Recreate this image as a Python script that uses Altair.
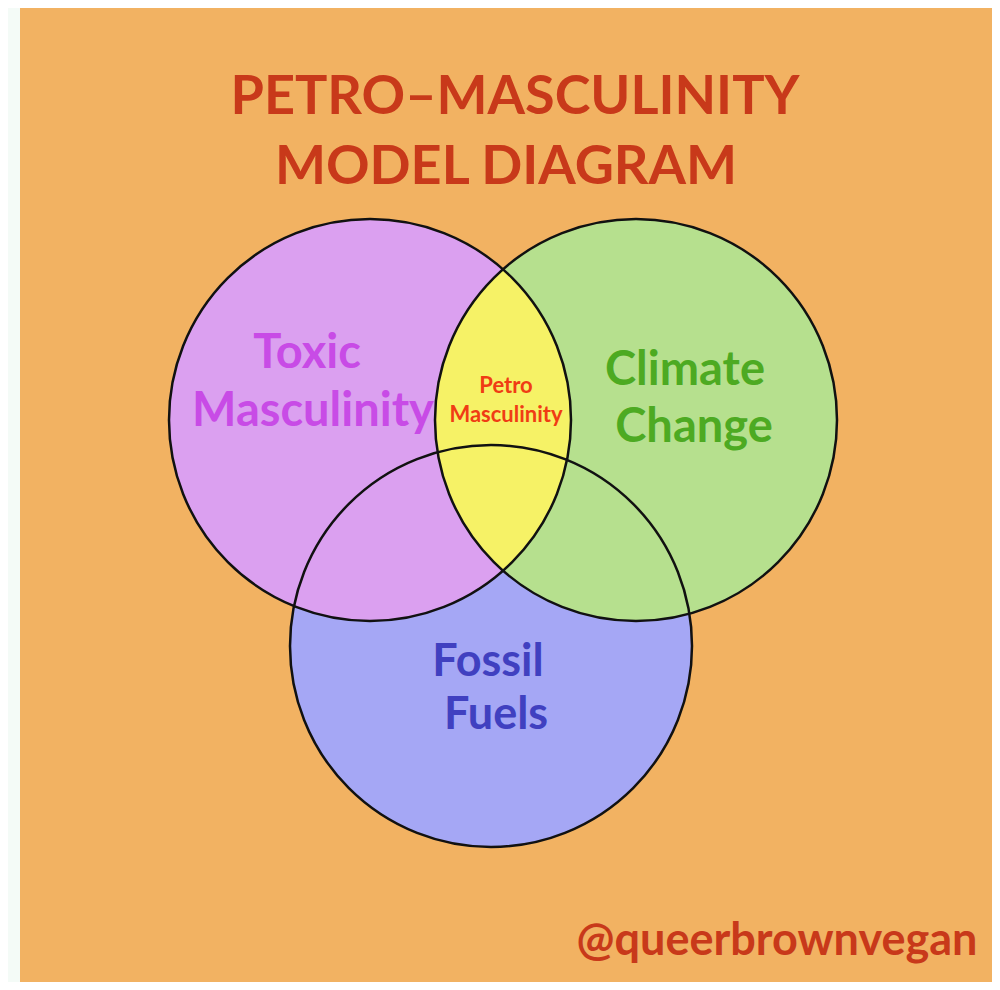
import altair as alt
import pandas as pd
import math

# ---- data ----
circle_names = ["Fossil Fuels", "Toxic Masculinity", "Climate Change"]
circle_cx = [491, 370, 636]
circle_cy = [646, 420, 420]
circle_r = 201
circle_colors = ["#A5A7F5", "#DBA0F0", "#B6E08E"]
lens_color = "#F6F266"

title_lines = ["PETRO–MASCULINITY", "MODEL DIAGRAM"]
credit = "@queerbrownvegan"

W, H = 984, 974
OFF = 8

circles = pd.DataFrame({
    "name": circle_names,
    "cx": circle_cx,
    "cy": circle_cy,
    "order": [0, 1, 2],
})

xs = alt.Scale(domain=[OFF, OFF + W], nice=False, zero=False)
ys = alt.Scale(domain=[OFF, OFF + H], nice=False, zero=False, reverse=True)

size = (2 * circle_r) ** 2

bg = alt.Chart(pd.DataFrame({"a": [0]})).mark_rect(color="#F2B262").encode(
    x=alt.value(12), x2=alt.value(W), y=alt.value(0), y2=alt.value(H)
)

fills = alt.Chart(circles).mark_point(
    shape="circle", filled=True, opacity=1, strokeWidth=0
).encode(
    x=alt.X("cx:Q", scale=xs, axis=None),
    y=alt.Y("cy:Q", scale=ys, axis=None),
    color=alt.Color("name:N", scale=alt.Scale(domain=circle_names, range=circle_colors), legend=None),
    order=alt.Order("order:Q"),
    size=alt.value(size),
)

# lens = intersection of the Toxic Masculinity and Climate Change circles
x1, x2 = circle_cx[1], circle_cx[2]
half_d = (x2 - x1) / 2
half_h = math.sqrt(circle_r ** 2 - half_d ** 2)
ru = circle_r / half_h
lens_path = f"M0,-1A{ru:.4f},{ru:.4f},0,0,1,0,1A{ru:.4f},{ru:.4f},0,0,1,0,-1Z"
lens = alt.Chart(pd.DataFrame({"cx": [(x1 + x2) / 2], "cy": [circle_cy[1]]})).mark_point(
    shape=lens_path, filled=True, color=lens_color, opacity=1, strokeWidth=0
).encode(
    x=alt.X("cx:Q", scale=xs, axis=None),
    y=alt.Y("cy:Q", scale=ys, axis=None),
    size=alt.value((2 * half_h) ** 2),
)

outlines = alt.Chart(circles).mark_point(
    shape="circle", filled=False, stroke="#111111", strokeWidth=2.5, opacity=1
).encode(
    x=alt.X("cx:Q", scale=xs, axis=None),
    y=alt.Y("cy:Q", scale=ys, axis=None),
    size=alt.value(size),
)

FONT = "Lato"


def label(text, x, y, fsize, color, weight="bold"):
    return alt.Chart(pd.DataFrame({"t": [text]})).mark_text(
        font=FONT, fontSize=fsize, fontWeight=weight, color=color,
        align="center", baseline="alphabetic"
    ).encode(x=alt.value(x - OFF), y=alt.value(y - OFF), text="t:N")


red = "#C8391A"
texts = [
    label(title_lines[0], 515, 114, 54, red),
    label(title_lines[1], 506, 184, 54, red),
    label("Toxic", 307, 368, 47, "#C84BE6"),
    label("Masculinity", 313, 426, 47, "#C84BE6"),
    label("Climate", 685, 385, 47, "#4DAA22"),
    label("Change", 694, 442, 47, "#4DAA22"),
    label("Fossil", 488, 676, 45, "#4040C0"),
    label("Fuels", 496, 729, 45, "#4040C0"),
    label("Petro", 506, 393, 22, "#F03C14"),
    label("Masculinity", 506, 422, 22, "#F03C14"),
    label(credit, 777, 955, 45, red),
]

chart = alt.layer(bg, fills, lens, outlines, *texts).properties(
    width=W, height=H, padding=0, background="#F4FBF7",
    autosize=alt.AutoSizeParams(type="none")
).configure_view(strokeWidth=0)

chart.save("out.html", embed_options={"renderer": "svg", "actions": False})
